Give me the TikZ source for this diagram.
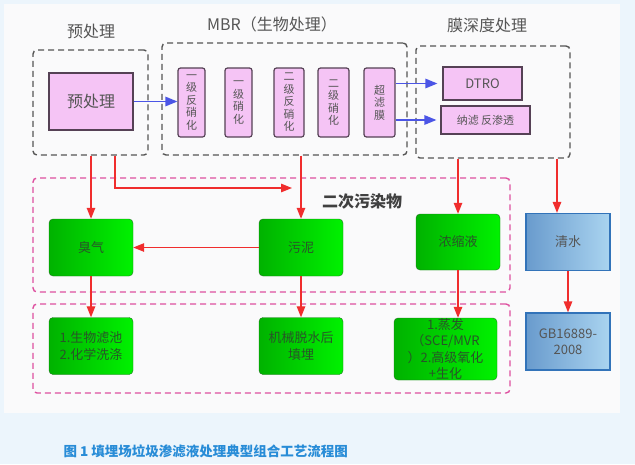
\documentclass[tikz,border=0pt]{standalone}
\usepackage{fontspec}
\setmainfont{Noto Sans CJK SC}
\usepackage{tikz}
\usetikzlibrary{arrows.meta, positioning}
\definecolor{bgA}{RGB}{236,245,252}
\definecolor{bgB}{RGB}{250,250,251}
\definecolor{grA}{RGB}{85,85,85}
\definecolor{pkA}{RGB}{245,196,245}
\definecolor{pkE}{RGB}{85,65,85}
\definecolor{mgA}{RGB}{222,80,160}
\definecolor{gnA}{RGB}{0,178,0}
\definecolor{gnB}{RGB}{0,242,0}
\definecolor{gnE}{RGB}{35,115,35}
\definecolor{gnT}{RGB}{40,85,40}
\definecolor{blA}{RGB}{105,155,205}
\definecolor{blB}{RGB}{170,212,240}
\definecolor{blE}{RGB}{50,115,185}
\definecolor{rdA}{RGB}{240,45,45}
\definecolor{buA}{RGB}{75,85,230}
\definecolor{capA}{RGB}{40,140,215}

\begin{document}
\begin{tikzpicture}[
    x=1pt, y=-1pt,
    grp/.style={draw=grA, line width=1.4pt, dash pattern=on 6pt off 4pt, rounded corners=4pt, inner sep=0pt},
    sec/.style={grp, draw=mgA},
    ttl/.style={text=grA, font=\fontsize{16}{18}\selectfont},
    pk/.style={draw=pkE, fill=pkA, line width=1.2pt, text=grA, inner sep=0pt},
    vt/.style={pk, rounded corners=2.5pt, minimum height=69, align=center, font=\fontsize{11}{12.5}\selectfont},
    gn/.style={draw=gnE, left color=gnA, right color=gnB, rounded corners=4pt, minimum width=84, minimum height=57,
               text=gnT, align=center, font=\fontsize{13}{16.5}\selectfont, inner sep=0pt},
    bl/.style={draw=blE, line width=1.3pt, left color=blA, right color=blB, minimum width=84, minimum height=57,
               text=grA, align=center, font=\fontsize{13}{16}\selectfont, inner sep=0pt},
    rarr/.style={draw=rdA, line width=1.3pt, -{Triangle[length=11pt,width=8.5pt]}},
    barr/.style={draw=buA, line width=1.3pt, -{Triangle[length=12pt,width=9.5pt]}}
  ]
  \useasboundingbox (0,0) rectangle (635,464);
  \fill[bgA] (0,0) rectangle (635,464);
  \fill[bgB] (4,4) rectangle (620,413);

  % groups
  \node[grp, minimum width=115, minimum height=105] (grpPre) at (90.5,102.5) {};
  \node[grp, minimum width=245, minimum height=112] (grpMBR) at (284.5,99) {};
  \node[grp, minimum width=154, minimum height=112] (grpMem) at (493,102) {};
  \node[sec, minimum width=477, minimum height=114] (grpSec) at (271.5,235) {};
  \node[sec, minimum width=477, minimum height=89] (grpTrt) at (271.5,348.5) {};

  \node[ttl] (tPre) at (91,31) {预处理};
  \node[ttl] (tMBR) at (272,24) {MBR（生物处理）};
  \node[ttl] (tMem) at (487,25) {膜深度处理};
  \node[ttl, font=\fontsize{16}{18}\selectfont\bfseries, text=black!75] (tSec) at (362,201) {二次污染物};

  % pretreatment + MBR
  \node[pk, minimum width=84, minimum height=57, font=\fontsize{16}{18}\selectfont] (pre) at (91,101.5) {预处理};
  \foreach \n/\x/\w/\t in {mbrA/191.5/27/{一\\级\\反\\硝\\化}, mbrB/238.5/27/{一\\级\\硝\\化},
                           mbrC/289/30/{二\\级\\反\\硝\\化}, mbrD/333.5/31/{二\\级\\硝\\化},
                           mbrE/379.5/31/{超\\滤\\膜}}
    \node[vt, minimum width=\w] (\n) at (\x,102.5) {\t};

  % membranes
  \node[pk, minimum width=79, minimum height=33, font=\fontsize{13}{15}\selectfont] (dtro) at (482.5,83.5) {DTRO};
  \node[pk, minimum width=89, minimum height=28, font=\fontsize{11}{13}\selectfont] (nf) at (485.5,120) {纳滤 反渗透};

  % secondary pollutants
  \node[gn] (odor) at (91,247.5) {臭气};
  \node[gn] (sludge) at (301,247.5) {污泥};
  \node[gn, minimum height=56] (conc) at (458,242) {浓缩液};
  \node[gn] (odorT) at (91,346) {1.生物滤池\\2.化学洗涤};
  \node[gn] (sludgeT) at (301,346) {机械脱水后\\填埋};
  \node[gn, minimum width=103, minimum height=62] (concT) at (445.5,349) {1.蒸发\\（SCE/MVR\\）2.高级氧化\\+生化};

  % clean water
  \node[bl] (water) at (568,242) {清水};
  \node[bl] (gb) at (568,341.5) {GB16889-\\2008};

  \draw[barr] (pre.east) -- (pre.east -| mbrA.west);
  \draw[barr, shorten >=5pt] (dtro.west -| mbrE.east) -- (dtro.west);
  \draw[barr, shorten >=4pt] (nf.west -| mbrE.east) -- (nf.west);

  \coordinate (slEnd) at (292,188);
  \coordinate (wIn) at ([xshift=-11pt]water.north);
  \draw[rarr] (grpPre.south -| odor.north) -- (odor.north);
  \draw[rarr] ([xshift=24.5pt]grpPre.south) |- (slEnd);
  \draw[rarr] (grpMBR.south -| sludge.north) -- (sludge.north);
  \draw[rarr] (sludge.west) -- (odor.east);
  \draw[rarr] (odor.south) -- (odorT.north);
  \draw[rarr] (sludge.south) -- (sludgeT.north);
  \draw[rarr] (grpMem.south -| conc.north) -- (conc.north);
  \draw[rarr] (conc.south) -- (conc.south |- concT.north);
  \draw[rarr] (grpMem.south -| wIn) -- (wIn);
  \draw[rarr] (water.south) -- (gb.north);

  \node[anchor=west, text=capA, font=\fontsize{13.5}{16}\selectfont\bfseries] (cap) at (60,451)
    {图 1 填埋场垃圾渗滤液处理典型组合工艺流程图};
\end{tikzpicture}
\end{document}
